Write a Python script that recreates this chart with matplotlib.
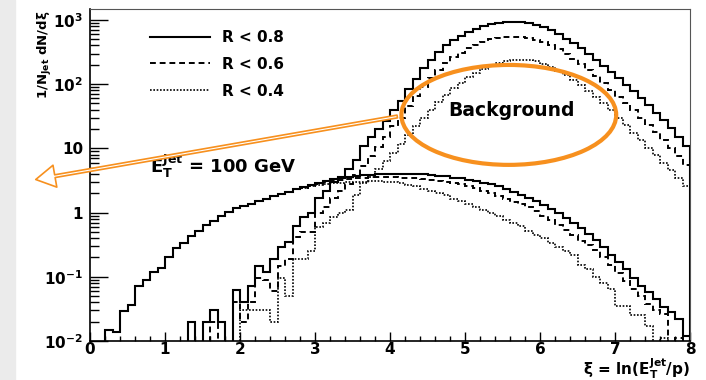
import numpy as np
import matplotlib
matplotlib.use("Agg")
import matplotlib.pyplot as plt
from matplotlib.patches import Ellipse, Rectangle, FancyArrowPatch
from matplotlib.lines import Line2D
from matplotlib.ticker import FixedLocator, FixedFormatter, MultipleLocator, LogLocator, NullFormatter

# -----------------------------------------------------------------------------
# Fragmentation function dN/dxi for 100 GeV jets, three cone sizes
# -----------------------------------------------------------------------------
# bins of 0.1 in xi from 0 to 8 (0 = empty bin)
xi_edges = np.linspace(0.0, 8.0, 81)

# signal (jet) histograms
sig_r08 = [0, 0, 0.015, 0.014, 0.029, 0.036, 0.072, 0.089, 0.118, 0.135,
           0.20, 0.28, 0.33, 0.43, 0.51, 0.63, 0.73, 0.90, 1.03, 1.17,
           1.25, 1.35, 1.5, 1.6, 1.8, 1.95, 2.1, 2.3, 2.5, 2.7,
           2.9, 3.1, 3.3, 3.5, 3.6, 3.7, 3.8, 3.9, 3.95, 4.0,
           4.05, 4.05, 4.0, 4.0, 3.95, 3.85, 3.75, 3.65, 3.5, 3.4,
           3.25, 3.1, 2.9, 2.75, 2.55, 2.35, 2.1, 1.9, 1.7, 1.5,
           1.3, 1.12, 0.97, 0.82, 0.68, 0.57, 0.46, 0.37, 0.29, 0.22,
           0.17, 0.13, 0.095, 0.072, 0.058, 0.045, 0.034, 0.028, 0.022, 0.012]
sig_r06 = [0, 0, 0.015, 0.014, 0.029, 0.036, 0.072, 0.089, 0.118, 0.135,
           0.20, 0.28, 0.33, 0.43, 0.51, 0.63, 0.73, 0.90, 1.03, 1.17,
           1.25, 1.35, 1.5, 1.6, 1.8, 1.95, 2.1, 2.3, 2.45, 2.6,
           2.8, 2.95, 3.1, 3.25, 3.35, 3.45, 3.5, 3.55, 3.55, 3.55,
           3.55, 3.5, 3.45, 3.4, 3.3, 3.2, 3.1, 3.0, 2.9, 2.75,
           2.55, 2.4, 2.2, 2.0, 1.8, 1.62, 1.48, 1.35, 1.2, 1.05,
           0.9, 0.78, 0.65, 0.53, 0.44, 0.36, 0.31, 0.26, 0.2, 0.15,
           0.115, 0.085, 0.065, 0.05, 0.038, 0.03, 0.026, 0, 0.011, 0]
sig_r04 = [0, 0, 0.015, 0.014, 0.029, 0.036, 0.072, 0.089, 0.118, 0.135,
           0.20, 0.28, 0.33, 0.43, 0.51, 0.63, 0.73, 0.90, 1.03, 1.17,
           1.25, 1.35, 1.5, 1.6, 1.8, 1.95, 2.1, 2.3, 2.45, 2.55,
           2.65, 2.75, 2.85, 2.9, 2.95, 3.0, 3.0, 3.05, 3.05, 3.0,
           2.95, 2.85, 2.7, 2.55, 2.35, 2.2, 2.0, 1.85, 1.65, 1.5,
           1.35, 1.2, 1.08, 0.97, 0.87, 0.78, 0.7, 0.62, 0.52, 0.45,
           0.4, 0.34, 0.29, 0.25, 0.22, 0.15, 0.13, 0.1, 0.08, 0.065,
           0.035, 0.035, 0.025, 0.025, 0.017, 0, 0.011, 0, 0, 0]

# background (underlying event) histograms
bkg_r08 = [0] * 13 + [0.02, 0, 0.02, 0.03, 0.02, 0, 0.062,
           0.040, 0.071, 0.146, 0.12, 0.19, 0.29, 0.35, 0.61, 0.84, 1.0,
           1.7, 2.2, 3.0, 3.6, 4.8, 6.5, 11, 15, 20, 27,
           40, 55, 85, 120, 180, 240, 320, 400, 480, 560,
           640, 720, 800, 860, 905, 930, 940, 930, 890, 835,
           765, 685, 595, 510, 435, 360, 295, 240, 195, 155,
           125, 98, 78, 60, 47, 36, 28, 21, 15, 11]
bkg_r06 = [0] * 16 + [0.02, 0, 0, 0.041,
           0.02, 0.04, 0.097, 0.09, 0.06, 0.146, 0.19, 0.41, 0.49, 0.5,
           1.0, 1.2, 1.7, 2.2, 2.8, 3.8, 5.3, 7.5, 10.5, 15,
           22, 30, 45, 65, 90, 125, 165, 210, 260, 310,
           360, 410, 460, 500, 530, 545, 550, 545, 525, 495,
           455, 405, 355, 300, 250, 205, 165, 132, 104, 82,
           64, 50, 39, 30, 23.5, 18, 13.5, 10, 7.5, 5.6]
bkg_r04 = [0] * 20 + [0.03, 0.03, 0.03, 0.03, 0.02, 0.095, 0.05, 0.19, 0.19, 0.25,
           0.59, 0.7, 0.84, 1.0, 1.1, 1.9, 2.9, 3.6, 4.8, 6.3,
           8.5, 11.5, 16, 22, 30, 40, 53, 68, 86, 106,
           128, 150, 172, 193, 212, 227, 238, 240, 236, 226,
           205, 185, 163, 140, 118, 97, 79, 63, 50, 39,
           30, 23, 17.5, 13.5, 10.3, 7.9, 6.0, 4.6, 3.5, 2.6]

labels = ["R < 0.8", "R < 0.6", "R < 0.4"]
y_tick_vals = [1e-2, 1e-1, 1, 10, 1e2, 1e3]
y_tick_labels = [r"$10^{-2}$", r"$10^{-1}$", "1", "10", r"$10^{2}$", r"$10^{3}$"]

ORANGE = "#f7901e"

plt.rcParams["font.family"] = ["DejaVu Sans"]
plt.rcParams["font.weight"] = "bold"
plt.rcParams["axes.labelweight"] = "bold"
plt.rcParams["mathtext.fontset"] = "dejavusans"
plt.rcParams["mathtext.default"] = "bf"

fig = plt.figure(figsize=(7.06, 3.80), dpi=100)
fig.patches.append(Rectangle((0, 0), 15 / 706, 1, transform=fig.transFigure,
                             color="#ebebeb", zorder=-5))
ax = fig.add_axes([90 / 706, 39 / 380, 600 / 706, 332 / 380])

styles = [("-", 1.5), ((0, (3, 2)), 1.4), ((0, (1, 1)), 1.2)]
FLOOR = 1e-4


def floored(v):
    v = np.asarray(v, dtype=float)
    return np.where(v > 0, v, FLOOR)


for series, (ls, lw) in zip([sig_r08, sig_r06, sig_r04], styles):
    ax.stairs(floored(series), xi_edges, baseline=FLOOR, color="black", ls=ls, lw=lw)
for series, (ls, lw) in zip([bkg_r08, bkg_r06, bkg_r04], styles):
    ax.stairs(floored(series), xi_edges, baseline=FLOOR, color="black", ls=ls, lw=lw)

ax.set_yscale("log")
ax.set_xlim(0, 8)
ax.set_ylim(1e-2, 1480)

# axis ticks, ROOT style
ax.xaxis.set_major_locator(MultipleLocator(1))
ax.xaxis.set_minor_locator(MultipleLocator(0.2))
ax.yaxis.set_major_locator(FixedLocator(y_tick_vals))
ax.yaxis.set_major_formatter(FixedFormatter(y_tick_labels))
ax.yaxis.set_minor_locator(LogLocator(base=10, subs=np.arange(2, 10)))
ax.yaxis.set_minor_formatter(NullFormatter())
ax.tick_params(which="both", direction="in", top=False, right=False, width=1)
ax.tick_params(axis="x", which="major", length=6.5, labelsize=11, pad=1)
ax.tick_params(axis="x", which="minor", length=3.5)
ax.tick_params(axis="y", which="major", length=13, labelsize=11, pad=5)
ax.tick_params(axis="y", which="minor", length=6.5)

for side in ["left", "bottom"]:
    ax.spines[side].set_linewidth(1.2)
for side in ["top", "right"]:
    ax.spines[side].set_linewidth(0.8)
    ax.spines[side].set_color("#555555")

ax.set_ylabel(r"1/N$_{Jet}$ dN/d$\xi$", fontsize=9.5)
ax.yaxis.set_label_coords(-0.075, 0.997)
ax.yaxis.label.set_rotation_mode("anchor")
ax.yaxis.label.set_ha("right")
ax.yaxis.label.set_va("center")
ax.set_xlabel(r"$\xi$ = ln(E$_{T}^{Jet}$/p)", fontsize=11)
ax.xaxis.set_label_coords(1.0, -0.046)
ax.xaxis.label.set_ha("right")
ax.xaxis.label.set_va("top")

# legend
handles = [Line2D([], [], color="black", ls=ls, lw=lw) for ls, lw in styles]
ax.legend(handles, labels, loc="upper left", bbox_to_anchor=(0.1, 0.937),
          frameon=False, fontsize=11, handlelength=3.9, handletextpad=0.8,
          labelspacing=0.78, borderpad=0, borderaxespad=0)

ax.text(0.1, 0.506, r"$E_{T}^{Jet}$ = 100 GeV", transform=ax.transAxes,
        fontsize=13, va="baseline", ha="left")

# background annotation
ax.add_patch(Ellipse((0.698, 0.681), 0.358, 0.301, transform=ax.transAxes,
                     fill=False, ec=ORANGE, lw=3, zorder=5))
ax.text(0.702, 0.693, "Background", transform=ax.transAxes, fontsize=13.5,
        ha="center", va="center", zorder=6)

arrow = FancyArrowPatch((400 / 706, 264 / 380), (33 / 706, 200 / 380),
                        transform=fig.transFigure,
                        arrowstyle="simple,head_length=0.7,head_width=0.8,tail_width=0.1",
                        mutation_scale=20, fc="white", ec=ORANGE, lw=1.2, zorder=10)
fig.patches.append(arrow)

plt.savefig("out.png", dpi=100)
